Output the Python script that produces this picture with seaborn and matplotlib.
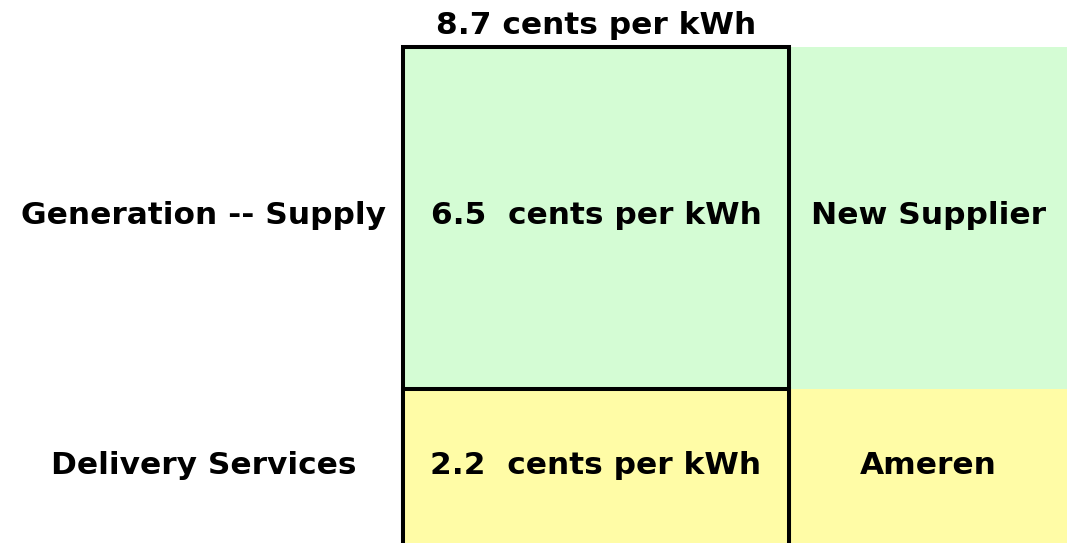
import numpy as np
import pandas as pd
import matplotlib
matplotlib.use("Agg")
import matplotlib.pyplot as plt
import seaborn as sns

# Data
columns = ["Price", "Provider"]
segments = ["Delivery Services", "Generation -- Supply"]
delivery = [2.2, 2.2]
supply = [6.5, 6.5]
price_labels = ["2.2  cents per kWh", "6.5  cents per kWh"]
provider_labels = ["Ameren", "New Supplier"]
total_label = "8.7 cents per kWh"

# Style
green = "#D4FCD4"
yellow = "#FFFCA6"
col_width = [1.0, 0.72]
row_px = [158, 342]   # drawn heights of the two segments (not to scale in the original)

sns.set_theme(style="white")
# wide sans face: the original lettering is horizontally stretched
plt.rcParams["font.family"] = ["DejaVu Sans"]
plt.rcParams["font.weight"] = "bold"
plt.rcParams["text.color"] = "black"

df = pd.DataFrame({"column": columns,
                   "delivery": delivery,
                   "top": np.add(delivery, supply)})

# piecewise linear scale so each segment gets its drawn height
bounds = np.concatenate([[0], np.cumsum([delivery[0], supply[0]])])
px = np.concatenate([[0], np.cumsum(row_px)])


def forward(y):
    y = np.asarray(y, dtype=float)
    out = np.interp(y, bounds, px)
    out = np.where(y < bounds[0], px[0] + (y - bounds[0]) * (px[1] - px[0]) / (bounds[1] - bounds[0]), out)
    out = np.where(y > bounds[-1], px[-1] + (y - bounds[-1]) * (px[-1] - px[-2]) / (bounds[-1] - bounds[-2]), out)
    return out


def inverse(p):
    p = np.asarray(p, dtype=float)
    out = np.interp(p, px, bounds)
    out = np.where(p < px[0], bounds[0] + (p - px[0]) * (bounds[1] - bounds[0]) / (px[1] - px[0]), out)
    out = np.where(p > px[-1], bounds[-1] + (p - px[-1]) * (bounds[-1] - bounds[-2]) / (px[-1] - px[-2]), out)
    return out


fig = plt.figure(figsize=(10.67, 5.43), dpi=100)
# axes runs a few pixels past the bottom edge so the bar's bottom outline is cut off
ax = fig.add_axes([403 / 1067, -4 / 543, 664 / 1067, 500 / 543])

sns.barplot(data=df, x="column", y="top", color=green, width=1, saturation=1, ax=ax)
sns.barplot(data=df, x="column", y="delivery", color=yellow, width=1, saturation=1, ax=ax)

ax.set_yscale("function", functions=(forward, inverse))

# resize columns, outline only the price column
for p in ax.patches:
    i = int(round(p.get_x() + p.get_width() / 2))
    p.set_x(-0.5 if i == 0 else 0.5)
    p.set_width(col_width[i])
    if i == 0:
        p.set_edgecolor("black")
        p.set_linewidth(2.9)
        p.set_clip_on(False)
        p.set_zorder(3)
    else:
        p.set_linewidth(0)

ax.set_xlim(-0.5, 0.5 + col_width[1])
ax.set_ylim(bounds[0], bounds[-1])
for s in ax.spines.values():
    s.set_visible(False)
ax.set_xticks([])
ax.set_yticks([])
ax.set_xlabel("")
ax.set_ylabel("")

# cell and row labels
mids = (bounds[:-1] + bounds[1:]) / 2
fs = 22.5
xs = [0, 0.5 + col_width[1] / 2, -0.5 - 199 / 386]
for j, m in enumerate(mids):
    for x, lab in zip(xs, [price_labels[j], provider_labels[j], segments[j]]):
        ax.annotate(lab, xy=(x, m), xytext=(0, -4), textcoords="offset points",
                    ha="center", va="baseline", fontsize=fs, fontweight="bold",
                    color="black", annotation_clip=False, zorder=4)

ax.annotate(total_label, xy=(0, bounds[-1]), xytext=(0, 9), textcoords="offset points",
            ha="center", va="baseline", fontsize=fs, fontweight="bold", color="black",
            annotation_clip=False)

fig.savefig("out.png", dpi=100)
